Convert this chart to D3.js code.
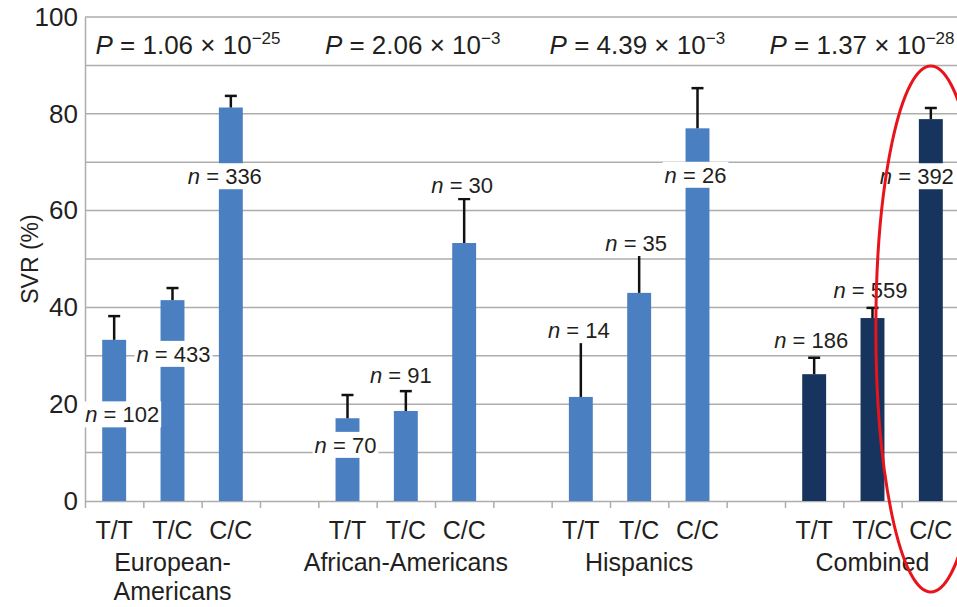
<!DOCTYPE html>
<html>
<head>
<meta charset="utf-8">
<script src="https://cdn.jsdelivr.net/npm/d3@7"></script>
<style>
  html, body { margin: 0; padding: 0; background: #fff; }
  svg { display: block; font-family: "Liberation Sans", Arial, Helvetica, sans-serif; }
</style>
</head>
<body>
<svg id="chart" width="957" height="607"></svg>
<script>
// SVR rate by genotype, per ancestry group
const groups = ["European-Americans", "African-Americans", "Hispanics", "Combined"];
const groupLines = [["European-", "Americans"], ["African-Americans"], ["Hispanics"], ["Combined"]];
const genotypes = ["T/T", "T/C", "C/C"];
const pValues = [
  { mant: "1.06", exp: "\u221225" },
  { mant: "2.06", exp: "\u22123" },
  { mant: "4.39", exp: "\u22123" },
  { mant: "1.37", exp: "\u221228" }
];
// SVR (%) per group, in genotype order
const svrEuropean = [33.3, 41.5, 81.3];
const svrAfrican = [17.1, 18.6, 53.3];
const svrHispanic = [21.5, 43.0, 77.0];
const svrCombined = [26.2, 37.8, 78.9];
// upper error bar end (%)
const errEuropean = [38.2, 44.0, 83.7];
const errAfrican = [21.9, 22.7, 62.4];
const errHispanic = [32.9, 51.2, 85.3];
const errCombined = [29.6, 39.9, 81.2];
// patients per genotype
const nEuropean = [102, 433, 336];
const nAfrican = [70, 91, 30];
const nHispanic = [14, 35, 26];
const nCombined = [186, 559, 392];
// height (in % units) at which each n label sits
const nAtEuropean = [17.9, 30.4, 67.1];
const nAtAfrican = [11.6, 26.0, 65.3];
const nAtHispanic = [35.3, 53.3, 67.4];
const nAtCombined = [33.3, 43.6, 67.1];
const yTicks = [0, 20, 40, 60, 80, 100];
const yGrid = [10, 20, 30, 40, 50, 60, 70, 80, 90, 100];

const svrAll = [svrEuropean, svrAfrican, svrHispanic, svrCombined];
const errAll = [errEuropean, errAfrican, errHispanic, errCombined];
const nAll = [nEuropean, nAfrican, nHispanic, nCombined];
const nAtAll = [nAtEuropean, nAtAfrican, nAtHispanic, nAtCombined];

const rows = [];
groups.forEach((g, gi) => genotypes.forEach((gt, ti) => rows.push({
  group: g, gi, genotype: gt, key: g + "|" + gt,
  svr: svrAll[gi][ti], err: errAll[gi][ti], n: nAll[gi][ti], nAt: nAtAll[gi][ti]
})));

// slot layout: three genotypes per group, one empty slot between groups
const slots = [];
groups.forEach((g, gi) => {
  genotypes.forEach(gt => slots.push(g + "|" + gt));
  if (gi < groups.length - 1) slots.push("gap" + gi);
});

const plotLeft = 85, plotRight = 960, plotTop = 17, plotBottom = 501;
const svg = d3.select("#chart");
const textColor = "#231f20";
const gridColor = "#adadad";

const x = d3.scaleBand().domain(slots).range([plotLeft, plotRight]).paddingInner(0.59).paddingOuter(0.295);
const xEdge = d3.scaleLinear().domain([0, slots.length]).range([plotLeft, plotRight]);
const y = d3.scaleLinear().domain([0, 100]).range([plotBottom, plotTop]);
const color = d3.scaleOrdinal().domain(groups).range(["#4a7fc2", "#4a7fc2", "#4a7fc2", "#17345e"]);

// horizontal gridlines
svg.append("g").selectAll("line").data(yGrid).join("line")
  .attr("x1", plotLeft).attr("x2", 957)
  .attr("y1", d => y(d)).attr("y2", d => y(d))
  .attr("stroke", gridColor).attr("stroke-width", 1.5);

// y axis
const yAxis = svg.append("g").attr("transform", `translate(${plotLeft},0)`)
  .call(d3.axisLeft(y).tickValues(yTicks).tickSize(0).tickPadding(7));
yAxis.select(".domain").attr("stroke", gridColor).attr("stroke-width", 1.5);
yAxis.selectAll("text").attr("font-size", 26).attr("fill", textColor)
  .attr("font-family", "Liberation Sans, Arial, sans-serif");

// x axis with ticks at slot boundaries
const xAxis = svg.append("g").attr("transform", `translate(0,${plotBottom})`)
  .call(d3.axisBottom(xEdge).tickValues(d3.range(slots.length + 1)).tickFormat("").tickSize(7).tickSizeOuter(0));
xAxis.select(".domain").attr("stroke", gridColor).attr("stroke-width", 1.5);
xAxis.selectAll(".tick line").attr("stroke", gridColor).attr("stroke-width", 1.5);

// bars
svg.append("g").selectAll("rect").data(rows).join("rect")
  .attr("x", d => x(d.key)).attr("width", x.bandwidth())
  .attr("y", d => y(d.svr)).attr("height", d => y(0) - y(d.svr))
  .attr("fill", d => color(d.group));

// upper error bars
const eb = svg.append("g").attr("stroke", "#111").attr("stroke-width", 2.5);
eb.selectAll("line.v").data(rows).join("line").attr("class", "v")
  .attr("x1", d => x(d.key) + x.bandwidth() / 2).attr("x2", d => x(d.key) + x.bandwidth() / 2)
  .attr("y1", d => y(d.svr)).attr("y2", d => y(d.err));
eb.selectAll("line.c").data(rows).join("line").attr("class", "c")
  .attr("x1", d => x(d.key) + x.bandwidth() / 2 - 6).attr("x2", d => x(d.key) + x.bandwidth() / 2 + 6)
  .attr("y1", d => y(d.err)).attr("y2", d => y(d.err));

// n labels on white backing
const nudge = [8, 1, -6, -2, -5, -2, -2, -3, -2, -3, -2, -14];
const nl = svg.append("g").selectAll("g").data(rows).join("g")
  .attr("transform", (d, i) => `translate(${x(d.key) + x.bandwidth() / 2 + nudge[i]},${y(d.nAt)})`);
nl.append("rect").attr("fill", "#fff");
const nt = nl.append("text").attr("text-anchor", "middle").attr("dy", "0.36em")
  .attr("font-size", 22).attr("fill", textColor);
nt.append("tspan").attr("font-style", "italic").text("n");
nt.append("tspan").text(d => " = " + d.n);
nl.each(function() {
  const b = d3.select(this).select("text").node().getBBox();
  d3.select(this).select("rect")
    .attr("x", b.x - 2).attr("width", b.width + 4)
    .attr("y", -13).attr("height", 26);
});

// genotype labels
svg.append("g").selectAll("text").data(rows).join("text")
  .attr("x", d => x(d.key) + x.bandwidth() / 2).attr("y", 539)
  .attr("text-anchor", "middle").attr("font-size", 25).attr("fill", textColor)
  .text(d => d.genotype);

// group labels
const groupCenter = gi => (x(groups[gi] + "|" + genotypes[0]) + x(groups[gi] + "|" + genotypes[2]) + x.bandwidth()) / 2;
const gl = svg.append("g").selectAll("text").data(groupLines).join("text")
  .attr("text-anchor", "middle").attr("font-size", 25).attr("fill", textColor);
gl.selectAll("tspan").data((d, gi) => d.map(t => ({ t, gi }))).join("tspan")
  .attr("x", d => groupCenter(d.gi)).attr("y", (d, i) => 571 + i * 29)
  .text(d => d.t);

// P values across the top band
const px = d3.scalePoint().domain(groups).range([188, 862]);
const pt = svg.append("g").selectAll("text").data(pValues).join("text")
  .attr("x", (d, i) => px(groups[i])).attr("y", 54)
  .attr("text-anchor", "middle").attr("font-size", 26).attr("fill", textColor);
pt.append("tspan").attr("font-style", "italic").text("P");
pt.append("tspan").text(d => " = " + d.mant + " \u00d7 10");
pt.append("tspan").attr("font-size", 17).attr("dy", -10).text(d => d.exp);

// y axis title
svg.append("text").attr("transform", `translate(38,${(plotTop + plotBottom) / 2}) rotate(-90)`)
  .attr("text-anchor", "middle").attr("font-size", 23).attr("fill", textColor)
  .text("SVR (%)");

// highlight around combined C/C
svg.append("ellipse")
  .attr("cx", x(groups[3] + "|C/C") + x.bandwidth() / 2).attr("cy", 329)
  .attr("rx", 55).attr("ry", 263)
  .attr("fill", "none").attr("stroke", "#e8141b").attr("stroke-width", 3);
</script>
</body>
</html>
